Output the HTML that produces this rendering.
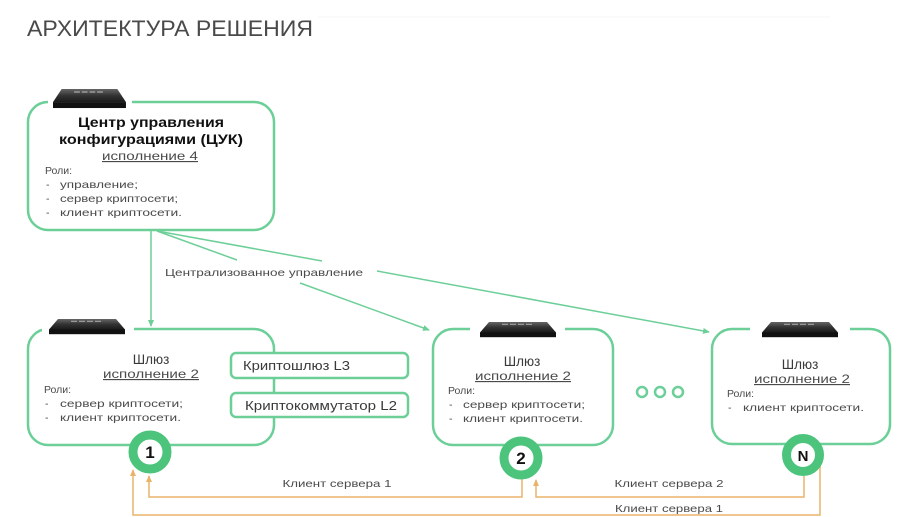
<!DOCTYPE html>
<html>
<head>
<meta charset="utf-8">
<style>
html,body{margin:0;padding:0;background:#fff;}
svg{display:block;}
text{font-family:"Liberation Sans","DejaVu Sans",sans-serif;}
.t{fill:#4a4a4a;font-size:10.5px;}
.h{fill:#3a3a3a;font-size:13.5px;}
.u{fill:#4a4a4a;font-size:11.5px;text-decoration:underline;}
.b{fill:#111;font-size:14px;font-weight:bold;}
.o{fill:#4a4a4a;font-size:10.5px;}
</style>
</head>
<body>
<svg width="920" height="517" viewBox="0 0 920 517" xmlns="http://www.w3.org/2000/svg">
<defs>
  <linearGradient id="srv" x1="0" y1="0" x2="0" y2="1">
    <stop offset="0" stop-color="#666"/>
    <stop offset="0.5" stop-color="#333"/>
    <stop offset="1" stop-color="#1a1a1a"/>
  </linearGradient>
  <g id="server">
    <polygon points="9,0 67,0 76,11 0,11" fill="url(#srv)"/>
    <line x1="22" y1="2.5" x2="54" y2="2.5" stroke="#999" stroke-width="1.2" stroke-dasharray="6,2"/>
    <rect x="0" y="11" width="76" height="5" fill="#111"/>
  </g>
  <marker id="ag" markerWidth="8" markerHeight="8" refX="6" refY="3" orient="auto" markerUnits="userSpaceOnUse">
    <path d="M0,0 L7,3 L0,6 z" fill="#6ccf98"/>
  </marker>
  <marker id="ao" markerWidth="8" markerHeight="8" refX="6" refY="3" orient="auto" markerUnits="userSpaceOnUse">
    <path d="M0,0 L7,3 L0,6 z" fill="#eab36a"/>
  </marker>
</defs>

<!-- title -->
<text x="27" y="36" font-size="22" fill="#4a4a4a" textLength="286" lengthAdjust="spacingAndGlyphs">АРХИТЕКТУРА РЕШЕНИЯ</text>
<line x1="318" y1="17" x2="830" y2="17" stroke="#f4f4f4" stroke-width="1"/>

<!-- green connectors -->
<g stroke="#6ccf98" stroke-width="1.5" fill="none">
  <line x1="151" y1="231" x2="151" y2="326" marker-end="url(#ag)"/>
  <line x1="157" y1="231" x2="237" y2="260"/>
  <line x1="300" y1="283" x2="429" y2="330" marker-end="url(#ag)"/>
  <line x1="157" y1="231" x2="322" y2="261"/>
  <line x1="377" y1="271" x2="709" y2="332" marker-end="url(#ag)"/>
</g>
<text class="t" x="264" y="276" text-anchor="middle" textLength="198" lengthAdjust="spacingAndGlyphs">Централизованное управление</text>

<!-- orange connectors -->
<g stroke="#eab36a" stroke-width="1.5" fill="none">
  <path d="M522,478 V497 H149 V476" marker-end="url(#ao)"/>
  <path d="M804,476 V497 H536 V480" marker-end="url(#ao)"/>
  <path d="M820,463 V515 H133 V470" marker-end="url(#ao)"/>
</g>
<text class="o" x="337" y="487" text-anchor="middle" textLength="109" lengthAdjust="spacingAndGlyphs">Клиент сервера 1</text>
<text class="o" x="669" y="487" text-anchor="middle" textLength="109" lengthAdjust="spacingAndGlyphs">Клиент сервера 2</text>
<text class="o" x="669" y="512" text-anchor="middle" textLength="108" lengthAdjust="spacingAndGlyphs">Клиент сервера 1</text>

<!-- ЦУК box -->
<rect x="28" y="102" width="246" height="128" rx="20" fill="#fff" stroke="#6ccf98" stroke-width="2.5"/>
<rect x="48" y="96" width="84" height="10" fill="#fff"/>
<use href="#server" transform="translate(53,89) scale(0.96,1.19)"/>
<text class="b" x="151" y="127" text-anchor="middle" textLength="146" lengthAdjust="spacingAndGlyphs">Центр управления</text>
<text class="b" x="151" y="144" text-anchor="middle" textLength="184" lengthAdjust="spacingAndGlyphs">конфигурациями (ЦУК)</text>
<text class="u" x="150" y="160" text-anchor="middle" textLength="96" lengthAdjust="spacingAndGlyphs">исполнение 4</text>
<text class="t" x="45" y="174">Роли:</text>
<text class="t" x="46" y="188">-</text><text class="t" x="60" y="188" textLength="78" lengthAdjust="spacingAndGlyphs">управление;</text>
<text class="t" x="46" y="202">-</text><text class="t" x="60" y="202" textLength="118" lengthAdjust="spacingAndGlyphs">сервер криптосети;</text>
<text class="t" x="46" y="216">-</text><text class="t" x="60" y="216" textLength="122" lengthAdjust="spacingAndGlyphs">клиент криптосети.</text>

<!-- Gateway 1 -->
<rect x="28" y="329" width="246" height="116" rx="20" fill="#fff" stroke="#6ccf98" stroke-width="2.5"/>
<rect x="42" y="322" width="92" height="10" fill="#fff"/>
<use href="#server" transform="translate(49,319) scale(1,0.95)"/>
<text class="h" x="151" y="364" text-anchor="middle">Шлюз</text>
<text class="u" x="151" y="378" text-anchor="middle" textLength="96" lengthAdjust="spacingAndGlyphs">исполнение 2</text>
<text class="t" x="44" y="393">Роли:</text>
<text class="t" x="45" y="407">-</text><text class="t" x="60" y="407" textLength="123" lengthAdjust="spacingAndGlyphs">сервер криптосети;</text>
<text class="t" x="45" y="421">-</text><text class="t" x="60" y="421" textLength="121" lengthAdjust="spacingAndGlyphs">клиент криптосети.</text>
<rect x="231" y="353" width="177" height="25" rx="5" fill="#fff" stroke="#6ccf98" stroke-width="2.5"/>
<rect x="231" y="393" width="177" height="24" rx="5" fill="#fff" stroke="#6ccf98" stroke-width="2.5"/>
<text x="243" y="370" font-size="12.5" fill="#3a3a3a" textLength="107" lengthAdjust="spacingAndGlyphs">Криптошлюз L3</text>
<text x="245" y="410" font-size="12.5" fill="#3a3a3a" textLength="152" lengthAdjust="spacingAndGlyphs">Криптокоммутатор L2</text>

<!-- Gateway 2 -->
<rect x="433" y="329" width="180" height="116" rx="20" fill="#fff" stroke="#6ccf98" stroke-width="2.5"/>
<rect x="470" y="322" width="95" height="10" fill="#fff"/>
<use href="#server" transform="translate(480,322) scale(1,0.95)"/>
<text class="h" x="522" y="366" text-anchor="middle">Шлюз</text>
<text class="u" x="523" y="380" text-anchor="middle" textLength="96" lengthAdjust="spacingAndGlyphs">исполнение 2</text>
<text class="t" x="448" y="394">Роли:</text>
<text class="t" x="449" y="408">-</text><text class="t" x="463" y="408" textLength="122" lengthAdjust="spacingAndGlyphs">сервер криптосети;</text>
<text class="t" x="449" y="422">-</text><text class="t" x="463" y="422" textLength="120" lengthAdjust="spacingAndGlyphs">клиент криптосети.</text>

<!-- dots -->
<g fill="#fff" stroke="#6ccf98" stroke-width="2.5">
  <circle cx="642" cy="392" r="5"/>
  <circle cx="660" cy="392" r="5"/>
  <circle cx="678" cy="392" r="5"/>
</g>

<!-- Gateway N -->
<rect x="712" y="329" width="178" height="115" rx="20" fill="#fff" stroke="#6ccf98" stroke-width="2.5"/>
<rect x="750" y="322" width="100" height="10" fill="#fff"/>
<use href="#server" transform="translate(762,322) scale(1,0.95)"/>
<text class="h" x="800" y="369" text-anchor="middle">Шлюз</text>
<text class="u" x="802" y="383" text-anchor="middle" textLength="96" lengthAdjust="spacingAndGlyphs">исполнение 2</text>
<text class="t" x="727" y="397">Роли:</text>
<text class="t" x="728" y="411">-</text><text class="t" x="743" y="411" textLength="121" lengthAdjust="spacingAndGlyphs">клиент криптосети.</text>

<!-- number circles -->
<g fill="#fff" stroke="#4cc47c" stroke-width="9">
  <circle cx="150" cy="452" r="17"/>
  <circle cx="521" cy="458" r="17"/>
  <circle cx="803" cy="455" r="16.5"/>
</g>
<text x="150" y="458" font-size="17" font-weight="bold" fill="#111" text-anchor="middle">1</text>
<text x="521" y="464" font-size="17" font-weight="bold" fill="#111" text-anchor="middle">2</text>
<text x="803" y="461" font-size="15" font-weight="bold" fill="#111" text-anchor="middle">N</text>
</svg>
</body>
</html>
